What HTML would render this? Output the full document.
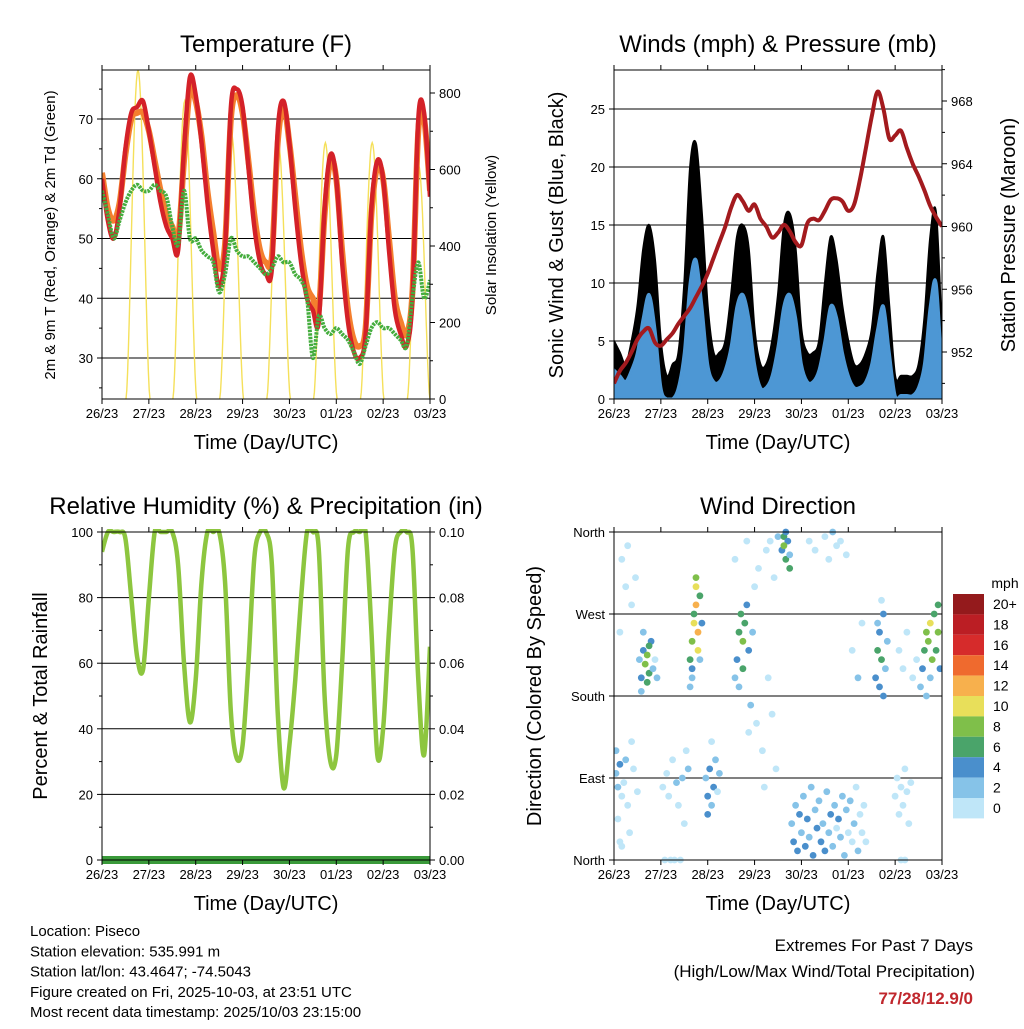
<!DOCTYPE html>
<html><head><meta charset="utf-8">
<style>
html,body{margin:0;padding:0;background:#fff;}
svg text{font-family:"Liberation Sans",Arial,sans-serif;fill:#000;}
</style></head>
<body>
<svg id="c" width="1024" height="1024" viewBox="0 0 1024 1024" xmlns="http://www.w3.org/2000/svg">
<rect width="1024" height="1024" fill="#fff"/>
</svg>
<script>
// ---- Data ----
const dayLabels = ["26/23","27/23","28/23","29/23","30/23","01/23","02/23","03/23"];
const hours3 = [0,3,6,9,12,15,18,21,24,27,30,33,36,39,42,45,48,51,54,57,60,63,66,69,72,75,78,81,84,87,90,93,96,99,102,105,108,111,114,117,120,123,126,129,132,135,138,141,144,147,150,153,156,159,162,165,168];
const temp2m = [60,53,50,55,65,71,72,73,68,62,56,52,50,48,65,77,74,66,56,48,42,48,72,75,72,62,52,46,44,45,68,73,66,55,46,40,38,36,55,64,60,46,36,31,30,34,55,63,60,48,38,34,32,40,70,71,57];
const temp9m = [61,55,53,56,64,70,71,71,68,63,58,54,52,50,63,75,73,67,58,51,45,49,70,74,71,63,54,48,46,47,66,72,66,57,48,42,40,38,54,63,60,48,38,33,32,35,54,62,60,50,40,36,34,41,68,70,58];
const dewpt = [58,54,50,53,56,58,59,58,58,59,58,57,52,49,58,50,50,48,47,46,41,44,50,48,47,47,46,45,44,45,47,46,46,44,43,40,30,37,35,34,35,34,33,31,29,32,35,36,35,35,34,33,32,40,46,40,43];
const solarPeak = [860,780,690,660,670,670,610];
const sunriseHr = [12.3,36.3,60.3,84.4,108.4,132.4,156.4];
const sunsetHr = [24.6,48.5,72.5,96.5,120.4,144.4,168];
const gust = [5,4,3,5,8,13,15,12,5,2,3,4,10,20,22,16,8,4,4,5,9,14,15,13,6,3,3,5,9,15,16,13,6,4,4,5,10,14,12,8,5,3,3,4,6,11,14,8,2,2,2,2,3,7,14,16,5];
const wind = [2.5,2,1.5,2.5,4,7,9,6,1,0,0,1,4,10,12,8,3,1.5,1.5,2.5,4.5,8,9,7,3,1,1,2,4.5,8,9,7,3,1.5,1.5,2.5,5,8,7,4,2,1,1,1.5,3,6,8,4,0.3,0.3,0.3,0.3,1,3,8,10,2];
const pressure = [950.0,950.8,951.3,952.0,952.8,953.3,953.5,952.6,952.4,952.8,953.2,953.8,954.3,954.8,955.5,956.2,957.0,958.0,959.0,960.0,961.2,962.0,961.6,961.0,961.4,960.5,960.0,959.3,959.6,960.1,959.7,959.0,958.8,960.2,960.5,960.4,961.0,961.7,961.8,961.6,961.0,961.4,963.0,965.0,967.0,968.6,967.5,965.6,965.8,966.1,965.0,964.0,963.2,962.3,961.3,960.6,960.0];
const rh = [94,100,100,100,98,80,62,58,80,100,100,100,100,90,60,42,55,85,100,100,100,85,45,31,35,60,92,100,100,90,45,22,35,55,80,100,100,95,50,30,32,60,95,100,100,100,70,32,40,70,95,100,100,95,55,32,65];
const precip = [0,0,0,0,0,0,0,0,0,0,0,0,0,0,0,0,0,0,0,0,0,0,0,0,0,0,0,0,0,0,0,0,0,0,0,0,0,0,0,0,0,0,0,0,0,0,0,0,0,0,0,0,0,0,0,0,0];
const dirHours = [1,2,3,4,2,5,6,7,8,3,10,12,9,1,4, 4,6,7,9,3,11, 13,14,15,16,17,18,17,19,20,15,14,18,21,22, 25,27,28,30,32,33,35,26,29,31,34,36,38,37, 39,40,41,42,42,43,41,40,44,43,42,40,45,39,44, 47,48,49,50,51,52,48,53,54,50, 62,63,64,65,66,67,68,69,66,64,70,71,72,74,73,62,68,69, 76,77,78,80,82,84,79,81,83, 86,87,88,89,90,88,87,90, 91,92,93,94,95,96,97,98,99,100,101,102,103,104,105,106,107,108,109,110,111,112,113,114,115,116,117,118,119,120,121,122,123,124,125,126,127,128,129, 100,103,108,110,112,114,116,119, 122,125,127, 134,135,136,137,138,139,136,135,140,138,137, 144,145,146,147,148,149,150,151,147,149,152,146,148,150,153,155, 157,158,159,160,161,162,163,164,165,166,167,162,160,166];
const dirDeg = [95,80,105,70,45,85,110,60,30,20,100,75,130,120,15, 330,300,345,280,250,310, 220,200,230,215,225,205,195,240,210,250,185,235,220,200, 80,95,70,110,85,60,90,0,0,0,0,40,100,120, 220,240,260,280,300,250,270,210,290,230,310,200,260,190,220, 90,70,100,60,80,110,50,75,95,130, 200,220,250,270,240,260,280,230,210,190,170,250,300,320,150,330,350,140, 120,80,340,350,310,355,200,160,100, 340,355,330,350,320,360,345,335, 40,20,60,10,50,30,70,15,45,25,80,5,55,35,65,20,40,10,75,30,50,15,60,35,45,25,70,5,55,30,65,20,40,80,10,50,30,60,20, 350,340,355,330,360,345,350,335, 230,200,260, 200,230,250,220,270,210,190,260,240,180,285, 70,90,50,80,60,100,75,40,0,0,85,230,210,250,200,220, 190,210,230,250,240,260,220,270,230,250,210,200,180,280];
const dirSpeed = [3,2,4,1,0,1,2,0,1,0,1,0,1,3,0, 0,1,0,1,0,0, 3,4,5,8,9,7,6,4,3,2,3,6,1,2, 1,0,1,0,2,1,2,0,0,0,0,1,3,1, 6,9,11,12,10,13,7,4,6,10,8,3,5,2,3, 3,4,4,3,5,2,4,1,2,1, 3,4,6,7,8,6,5,4,7,3,2,2,1,0,1,0,0,1, 0,1,0,1,0,2,0,0,0, 4,6,7,5,6,4,8,3, 3,4,2,5,4,3,2,4,5,3,2,4,3,4,2,5,3,4,2,3,4,2,3,1,4,3,2,3,2,1,2,1,2,1,2,1,1,1,0, 1,0,1,0,2,1,0,0, 1,2,1, 4,6,5,7,4,3,5,3,2,4,1, 1,0,1,0,1,0,1,0,0,0,0,1,0,1,0,1, 3,5,7,8,9,10,8,7,6,8,4,3,2,6];
const speedLabels = ["20+","18","16","14","12","10","8","6","4","2","0"];
const speedColors = ["#bfe6f8","#86c3e8","#4a8fcc","#4aa46a","#7fbf4a","#e8df5a","#f7b04d","#ef6a2e","#d62b2b","#bb1e24","#941a1c"];

// ---- Helpers ----
const NS="http://www.w3.org/2000/svg";
const svg=document.getElementById('c');
function mk(tag,attrs,parent){const e=document.createElementNS(NS,tag);for(const k in attrs)e.setAttribute(k,attrs[k]);(parent||svg).appendChild(e);return e;}
function txt(s,x,y,size,anchor,parent,extra){const e=mk('text',Object.assign({x:x,y:y,'font-size':size,'text-anchor':anchor||'middle'},extra||{}),parent);e.textContent=s;return e;}
function scale(d0,d1,r0,r1){return v=>r0+(v-d0)/(d1-d0)*(r1-r0);}

function panel(name,x0,y0,x1,y1,title){
  const g=mk('g',{});
  
  
  const t=txt(title,(x0+x1)/2,y0-18,24,'middle',g);
  
  
  return g;
}
function frame(g,x0,y0,x1,y1){
  const r=mk('rect',{x:x0,y:y0,width:x1-x0,height:y1-y0,fill:'none',stroke:'#000','stroke-width':1},g);
  
  
}
function xAxis(g,x0,x1,y0,y1,label){
  const xs=scale(0,168,x0,x1);
  dayLabels.forEach((d,i)=>{
    const x=xs(i*24);
    mk('line',{x1:x,y1:y1,x2:x,y2:y1+5,stroke:'#000'},g);
    mk('line',{x1:x,y1:y0,x2:x,y2:y0-5,stroke:'#000'},g);
    const t=txt(d,x,y1+19,13,'middle',g);
    
    
  });
  const l=txt(label,(x0+x1)/2,y1+50,20,'middle',g);
  
  
  return xs;
}
function yTicks(g,ys,ticks,labels,xEdge,side,grid,x0,x1,minor){
  ticks.forEach((v,i)=>{
    const y=ys(v);
    if(grid) mk('line',{x1:x0,y1:y,x2:x1,y2:y,stroke:'#000','stroke-width':1},g);
    const d=side==='l'?-5:5;
    mk('line',{x1:xEdge,y1:y,x2:xEdge+d,y2:y,stroke:'#000'},g);
    const t=txt(labels[i],xEdge+(side==='l'?-9:9),y+5,13,side==='l'?'end':'start',g);
    
    
  });
  if(minor){minor.forEach(v=>{const y=ys(v);mk('line',{x1:xEdge,y1:y,x2:xEdge+(side==='l'?-3:3),y2:y,stroke:'#000'},g);});}
}
function vlabel(g,s,x,y,size,name){
  const t=txt(s,x,y,size,'middle',g,{transform:`rotate(-90 ${x} ${y})`});
  
  
}
// smooth (Catmull-Rom) path through data points
function smooth(hs,vs,xs,ys){
  const P=hs.map((h,i)=>[xs(h),ys(vs[i])]);
  let d='M'+P[0][0].toFixed(1)+','+P[0][1].toFixed(1);
  for(let i=0;i<P.length-1;i++){
    const p0=P[Math.max(0,i-1)],p1=P[i],p2=P[i+1],p3=P[Math.min(P.length-1,i+2)];
    const c1=[p1[0]+(p2[0]-p0[0])/6,p1[1]+(p2[1]-p0[1])/6];
    const c2=[p2[0]-(p3[0]-p1[0])/6,p2[1]-(p3[1]-p1[1])/6];
    d+='C'+c1[0].toFixed(1)+','+c1[1].toFixed(1)+' '+c2[0].toFixed(1)+','+c2[1].toFixed(1)+' '+p2[0].toFixed(1)+','+p2[1].toFixed(1);
  }
  return d;
}

// ---- Panel 1: Temperature ----
(function(){
  const X0=102,Y0=70,X1=430,Y1=399;
  const g=panel('temperature-panel',X0,Y0,X1,Y1,'Temperature (F)');
  const ys=scale(30,70,358,119);
  const ysol=scale(0,800,399,93);
  const xs=scale(0,168,X0,X1);
  const clip=mk('clipPath',{id:'cp1'},g);mk('rect',{x:X0,y:Y0,width:X1-X0,height:Y1-Y0},clip);
  yTicks(g,ys,[30,40,50,60,70],['30','40','50','60','70'],X0,'l',true,X0,X1,[25,35,45,55,65,75]);
  yTicks(g,ysol,[0,200,400,600,800],['0','200','400','600','800'],X1,'r',false,X0,X1,[100,300,500,700]);
  const pg=mk('g',{'clip-path':'url(#cp1)'},g);
  solarPeak.forEach((p,i)=>{
    const a=sunriseHr[i],b=sunsetHr[i];let d='';
    for(let k=0;k<=30;k++){const h=a+(b-a)*k/30;const v=p*Math.pow(Math.sin(Math.PI*k/30),1.6);d+=(k?'L':'M')+xs(h).toFixed(1)+','+ysol(v).toFixed(1);}
    const e=mk('path',{d:d,fill:'none',stroke:'#f5e05a','stroke-width':1.4},pg);
    
    
  });
  const o=mk('path',{d:smooth(hours3,temp9m,xs,ys),fill:'none',stroke:'#f47f2e','stroke-width':6,'stroke-linejoin':'round'},pg);
  
  
  const r=mk('path',{d:smooth(hours3,temp2m,xs,ys),fill:'none',stroke:'#d42128','stroke-width':4.5,'stroke-linejoin':'round'},pg);
  
  
  const gd=mk('path',{d:smooth(hours3,dewpt,xs,ys),fill:'none',stroke:'#45ad3e','stroke-width':4,'stroke-dasharray':'2.5 1','stroke-linejoin':'round'},pg);
  
  
  frame(g,X0,Y0,X1,Y1);
  xAxis(g,X0,X1,Y0,Y1,'Time (Day/UTC)');
  vlabel(g,'2m & 9m T (Red, Orange) & 2m Td (Green)',55,235,15,'y-axis-title-left');
  vlabel(g,'Solar Insolation (Yellow)',496,235,15,'y-axis-title-right');
})();

// ---- Panel 2: Winds ----
(function(){
  const X0=614,Y0=70,X1=942,Y1=399;
  const g=panel('winds-panel',X0,Y0,X1,Y1,'Winds (mph) & Pressure (mb)');
  const ys=scale(0,25,399,109);
  const yp=scale(952,968,352,101);
  const xs=scale(0,168,X0,X1);
  const clip=mk('clipPath',{id:'cp2'},g);mk('rect',{x:X0,y:Y0,width:X1-X0,height:Y1-Y0},clip);
  yTicks(g,ys,[0,5,10,15,20,25],['0','5','10','15','20','25'],X0,'l',true,X0,X1);
  yTicks(g,yp,[952,956,960,964,968],['952','956','960','964','968'],X1,'r',false,X0,X1,[950,954,958,962,966,970]);
  const pg=mk('g',{'clip-path':'url(#cp2)'},g);
  let d='M'+xs(0)+','+ys(0)+smooth(hours3,gust,xs,ys).replace('M','L')+'L'+xs(168)+','+ys(0)+'Z';
  const b=mk('path',{d:d,fill:'#000',stroke:'#000','stroke-width':2,'stroke-linejoin':'round'},pg);
  
  
  d='M'+xs(0)+','+ys(0)+smooth(hours3,wind,xs,ys).replace('M','L')+'L'+xs(168)+','+ys(0)+'Z';
  const w=mk('path',{d:d,fill:'#4d97d4',stroke:'#4d97d4','stroke-width':3},pg);
  
  
  const p=mk('path',{d:smooth(hours3,pressure,xs,yp),fill:'none',stroke:'#a31a1e','stroke-width':4,'stroke-linejoin':'round'},pg);
  
  
  frame(g,X0,Y0,X1,Y1);
  xAxis(g,X0,X1,Y0,Y1,'Time (Day/UTC)');
  vlabel(g,'Sonic Wind & Gust (Blue, Black)',563,235,20,'y-axis-title-left');
  vlabel(g,'Station Pressure (Maroon)',1015,235,20,'y-axis-title-right');
})();

// ---- Panel 3: RH ----
(function(){
  const X0=102,Y0=532,X1=430,Y1=860;
  const g=panel('humidity-panel',X0,Y0,X1,Y1,'Relative Humidity (%) & Precipitation (in)');
  const ys=scale(0,100,860,532);
  const yp=scale(0,0.1,860,532);
  const xs=scale(0,168,X0,X1);
  yTicks(g,ys,[0,20,40,60,80,100],['0','20','40','60','80','100'],X0,'l',true,X0,X1,[10,30,50,70,90]);
  yTicks(g,yp,[0,0.02,0.04,0.06,0.08,0.1],['0.00','0.02','0.04','0.06','0.08','0.10'],X1,'r',false,X0,X1,[0.01,0.03,0.05,0.07,0.09]);
  const clip=mk('clipPath',{id:'cp3'},g);mk('rect',{x:X0,y:Y0-3,width:X1-X0,height:Y1-Y0+6},clip);
  const pg=mk('g',{'clip-path':'url(#cp3)'},g);
  const r=mk('path',{d:smooth(hours3,rh,xs,ys),fill:'none',stroke:'#8dc63f','stroke-width':4.5,'stroke-linejoin':'round'},pg);
  
  
  const p=mk('path',{d:smooth(hours3,precip,xs,yp),fill:'none',stroke:'#3a9a3a','stroke-width':8},g);
  
  
  frame(g,X0,Y0,X1,Y1);
  xAxis(g,X0,X1,Y0,Y1,'Time (Day/UTC)');
  vlabel(g,'Percent & Total Rainfall',47,696,20,'y-axis-title-left');
})();

// ---- Panel 4: Wind Direction ----
(function(){
  const X0=614,Y0=532,X1=942,Y1=860;
  const g=panel('wind-direction-panel',X0,Y0,X1,Y1,'Wind Direction');
  const ys=scale(0,360,860,532);
  const xs=scale(0,168,X0,X1);
  yTicks(g,ys,[0,90,180,270,360],['North','East','South','West','North'],X0,'l',true,X0,X1);
  const clip=mk('clipPath',{id:'cp4'},g);mk('rect',{x:X0,y:Y0-4,width:X1-X0,height:Y1-Y0+8},clip);
  const pg=mk('g',{'clip-path':'url(#cp4)'},g);
  dirHours.forEach((h,i)=>{
    const idx=Math.min(10,Math.floor(dirSpeed[i]/2));
    const c=mk('circle',{cx:xs(h).toFixed(1),cy:ys(dirDeg[i]).toFixed(1),r:3.4,fill:speedColors[idx]},pg);
    
    
  });
  frame(g,X0,Y0,X1,Y1);
  xAxis(g,X0,X1,Y0,Y1,'Time (Day/UTC)');
  vlabel(g,'Direction (Colored By Speed)',541,696,20,'y-axis-title-left');
  const cb=mk('g',{},g);
  
  
  txt('mph',1005,588,14,'middle',cb);
  speedLabels.forEach((s,i)=>{
    const y=594+i*20.4;
    const col=speedColors[10-i];
    const rr=mk('rect',{x:953,y:y,width:31,height:20.4,fill:col},cb);
    
    
    const t=txt(s,993,y+15,14,'start',cb);
    
    
  });
})();

// ---- Footer ----
(function(){
  const g=mk('g',{});
  
  
  ["Location: Piseco","Station elevation: 535.991 m","Station lat/lon: 43.4647; -74.5043","Figure created on Fri, 2025-10-03, at 23:51 UTC","Most recent data timestamp: 2025/10/03 23:15:00"].forEach((s,i)=>{
    txt(s,30,936+i*20.3,15,'start',g);
  });
  const e=mk('g',{});
  
  
  txt('Extremes For Past 7 Days',973,951,17,'end',e);
  txt('(High/Low/Max Wind/Total Precipitation)',975,977,17,'end',e);
  const v=txt('77/28/12.9/0',973,1004,17,'end',e,{'font-weight':'bold'});
  v.setAttribute('fill','#c0272d');v.style.fill='#c0272d';
})();
</script>
</body></html>
